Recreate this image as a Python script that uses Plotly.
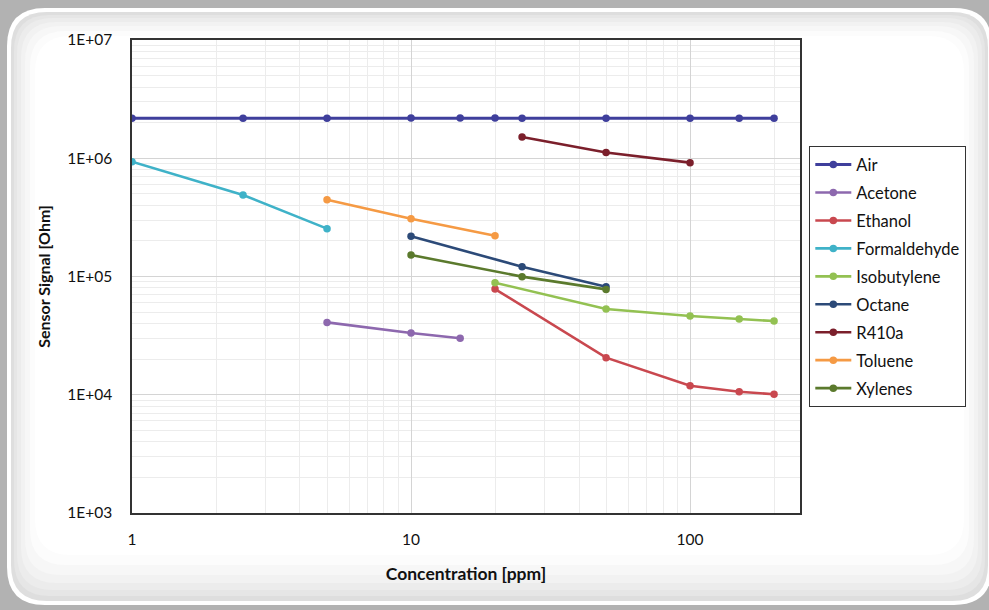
import plotly.graph_objects as go

# ---------------- data ----------------
series_names = ["Air", "Acetone", "Ethanol", "Formaldehyde", "Isobutylene",
                "Octane", "R410a", "Toluene", "Xylenes"]

air_x = [1, 2.5, 5, 10, 15, 20, 25, 50, 100, 150, 200]
air_y = [2.18e6, 2.18e6, 2.18e6, 2.19e6, 2.19e6, 2.19e6, 2.18e6, 2.18e6, 2.18e6, 2.18e6, 2.18e6]

acetone_x = [5, 10, 15]
acetone_y = [4.09e4, 3.33e4, 3.0e4]

ethanol_x = [20, 50, 100, 150, 200]
ethanol_y = [7.83e4, 2.06e4, 1.19e4, 1.06e4, 1.01e4]

formaldehyde_x = [1, 2.5, 5]
formaldehyde_y = [9.35e5, 4.89e5, 2.54e5]

isobutylene_x = [20, 50, 100, 150, 200]
isobutylene_y = [8.87e4, 5.31e4, 4.63e4, 4.37e4, 4.2e4]

octane_x = [10, 25, 50]
octane_y = [2.19e5, 1.21e5, 8.2e4]

r410a_x = [25, 50, 100]
r410a_y = [1.51e6, 1.12e6, 9.18e5]

toluene_x = [5, 10, 20]
toluene_y = [4.46e5, 3.08e5, 2.21e5]

xylenes_x = [10, 25, 50]
xylenes_y = [1.52e5, 9.97e4, 7.78e4]

series_x = [air_x, acetone_x, ethanol_x, formaldehyde_x, isobutylene_x,
            octane_x, r410a_x, toluene_x, xylenes_x]
series_y = [air_y, acetone_y, ethanol_y, formaldehyde_y, isobutylene_y,
            octane_y, r410a_y, toluene_y, xylenes_y]
colors = ["#3f3f9c", "#8d68ae", "#c9484f", "#3fb2c8", "#93c152",
          "#2c4a78", "#7b1f2b", "#f59a44", "#5b7a2d"]

x_tick_vals = [1, 10, 100]
x_tick_text = ["1", "10", "100"]
x_minor_vals = [2, 3, 4, 5, 6, 7, 8, 9, 20, 30, 40, 50, 60, 70, 80, 90, 200]
y_tick_vals = [1e3, 1e4, 1e5, 1e6, 1e7]
y_tick_text = ["1E+03", "1E+04", "1E+05", "1E+06", "1E+07"]
y_minor_vals = [m * 10 ** e for e in range(3, 7) for m in range(2, 10)]

# ---------------- layout geometry ----------------
W, H = 989, 610
L, R, T, B = 132, 800, 40, 513


def X(px):
    return (px - L) / (R - L)


def Y(py):
    return (B - py) / (B - T)


def rrect(x0, y0, x1, y1, r):
    return (f"M {X(x0 + r)},{Y(y0)} L {X(x1 - r)},{Y(y0)} "
            f"Q {X(x1)},{Y(y0)} {X(x1)},{Y(y0 + r)} L {X(x1)},{Y(y1 - r)} "
            f"Q {X(x1)},{Y(y1)} {X(x1 - r)},{Y(y1)} L {X(x0 + r)},{Y(y1)} "
            f"Q {X(x0)},{Y(y1)} {X(x0)},{Y(y1 - r)} L {X(x0)},{Y(y0 + r)} "
            f"Q {X(x0)},{Y(y0)} {X(x0 + r)},{Y(y0)} Z")


FONT = "Lato, 'Open Sans', sans-serif"

fig = go.Figure()
for i, name in enumerate(series_names):
    fig.add_trace(go.Scatter(
        x=series_x[i], y=series_y[i], name=name, mode="lines+markers",
        legendgroup=name,
        line=dict(color=colors[i], width=3 if name == "Air" else 2.6),
        marker=dict(color=colors[i], size=7.5, symbol="circle"),
    ))

# background frame (rounded panel with soft inner shading)
shapes = []
shapes.append(dict(type="path", xref="paper", yref="paper", layer="below",
                   path=rrect(7, 8, 992, 605, 38), fillcolor="#ffffff",
                   line=dict(width=0)))
layers = [(4, 4, "#dedede"), (7, 9, "#e6e6e6"), (10, 15, "#ececec"),
          (14, 22, "#f2f2f2"), (18, 30, "#f7f7f7"), (23, 40, "#fcfcfc"),
          (28, 50, "#ffffff")]
for ins, insb, col in layers:
    shapes.append(dict(type="path", xref="paper", yref="paper", layer="below",
                       path=rrect(7 + ins, 8 + ins, 992 - ins, 605 - insb, 36),
                       fillcolor=col, line=dict(width=0)))

fig.update_layout(
    width=W, height=H, autosize=False,
    margin=dict(l=L, r=W - R, t=T, b=H - B),
    paper_bgcolor="#b2b2b2", plot_bgcolor="#ffffff",
    font=dict(family=FONT, color="#111111", size=15),
    shapes=shapes,
    showlegend=True,
    legend=dict(x=X(809), y=Y(146), xanchor="left", yanchor="top",
                bgcolor="#ffffff", bordercolor="#333333", borderwidth=1.3,
                font=dict(family=FONT, size=16.5, color="#111111"),
                tracegroupgap=3.5, itemwidth=36),
)

fig.update_xaxes(
    type="log", range=[0, 2.394],
    tickmode="array", tickvals=x_tick_vals, ticktext=x_tick_text,
    ticks="", ticklabelstandoff=12,
    tickfont=dict(family=FONT, size=15.5, color="#111111"),
    showgrid=True, gridcolor="#d4d4d4", gridwidth=1.2,
    minor=dict(tickmode="array", tickvals=x_minor_vals, showgrid=True,
               gridcolor="#ececec", gridwidth=1, ticks=""),
    showline=True, linecolor="#333333", linewidth=1.5, mirror=True,
    zeroline=False,
    title=dict(text="<b>Concentration [ppm]</b>", standoff=20,
               font=dict(family=FONT, size=17.5, color="#111111")),
)
fig.update_yaxes(
    type="log", range=[3, 7],
    tickmode="array", tickvals=y_tick_vals, ticktext=y_tick_text,
    ticks="", ticklabelstandoff=15,
    tickfont=dict(family=FONT, size=15.5, color="#111111"),
    showgrid=True, gridcolor="#d4d4d4", gridwidth=1.2,
    minor=dict(tickmode="array", tickvals=y_minor_vals, showgrid=True,
               gridcolor="#ececec", gridwidth=1, ticks=""),
    showline=True, linecolor="#333333", linewidth=1.5, mirror=True,
    zeroline=False,
    title=dict(text="<b>Sensor Signal [Ohm]</b>", standoff=13,
               font=dict(family=FONT, size=16, color="#111111")),
)

fig.write_html(
    "out.html",
    config={"displayModeBar": False},
    post_script="document.body.style.margin='0px';"
                "document.body.style.padding='0px';"
                "document.body.style.background='#b2b2b2';"
                "document.body.style.overflow='hidden';",
)
